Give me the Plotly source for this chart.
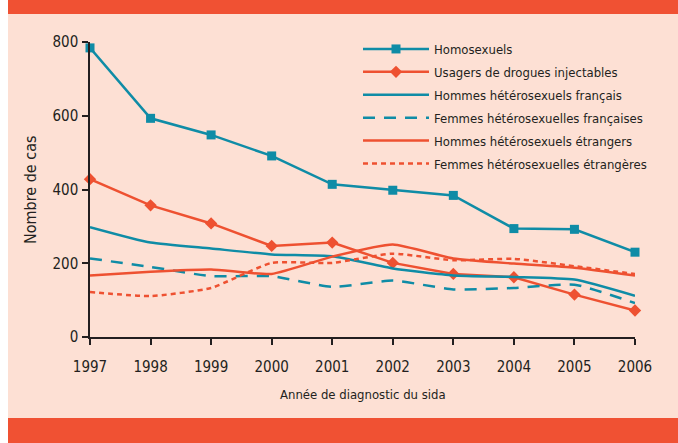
import plotly.graph_objects as go

# ==============================
# DATA
# ==============================
annees = [1997, 1998, 1999, 2000, 2001, 2002, 2003, 2004, 2005, 2006]

homosexuels = [784, 593, 548, 491, 414, 398, 384, 294, 292, 230]
udi = [428, 357, 308, 247, 256, 201, 171, 162, 115, 72]
hommes_hetero_fr = [298, 256, 240, 224, 219, 186, 167, 163, 156, 112]
femmes_hetero_fr = [213, 190, 165, 165, 136, 153, 129, 133, 142, 92]
hommes_hetero_etr = [167, 177, 183, 171, 218, 251, 213, 199, 188, 167]
femmes_hetero_etr = [122, 111, 133, 201, 201, 226, 208, 212, 192, 171]

y_ticks = [0, 200, 400, 600, 800]

# colours
teal = "#0f8ca6"
orange = "#ee5131"
peach = "#fde0d4"
band = "#f05133"
ink = "#231f20"
font_family = "Liberation Sans Narrow, DejaVu Sans Condensed, sans-serif"

fig = go.Figure()

fig.add_trace(go.Scatter(x=annees, y=homosexuels, name="Homosexuels", legendgroup="a",
                         mode="lines+markers", cliponaxis=False,
                         line=dict(color=teal, width=2.5),
                         marker=dict(symbol="square", size=9, color=teal)))
fig.add_trace(go.Scatter(x=annees, y=udi, name="Usagers de drogues injectables", legendgroup="b",
                         mode="lines+markers", cliponaxis=False,
                         line=dict(color=orange, width=2.5),
                         marker=dict(symbol="diamond", size=9.5, color=orange)))
fig.add_trace(go.Scatter(x=annees, y=hommes_hetero_fr, name="Hommes hétérosexuels français",
                         legendgroup="c", mode="lines", cliponaxis=False,
                         line=dict(color=teal, width=2.5, shape="spline", smoothing=0.5)))
fig.add_trace(go.Scatter(x=annees, y=femmes_hetero_fr, name="Femmes hétérosexuelles françaises",
                         legendgroup="d", mode="lines", cliponaxis=False,
                         line=dict(color=teal, width=2.5, dash="12px,9px", shape="spline", smoothing=0.5)))
fig.add_trace(go.Scatter(x=annees, y=hommes_hetero_etr, name="Hommes hétérosexuels étrangers",
                         legendgroup="e", mode="lines", cliponaxis=False,
                         line=dict(color=orange, width=2.5, shape="spline", smoothing=0.5)))
fig.add_trace(go.Scatter(x=annees, y=femmes_hetero_etr, name="Femmes hétérosexuelles étrangères",
                         legendgroup="f", mode="lines", cliponaxis=False,
                         line=dict(color=orange, width=2.5, dash="5px,4px", shape="spline", smoothing=0.5)))

# page frame: white strip on the left, orange bands top and bottom
L, R, T, B = 90, 43, 42, 106
W, H = 678, 443
pw, ph = W - L - R, H - T - B


def px_x(v):
    return (v - L) / pw


def px_y(v):
    return (H - B - v) / ph


fig.add_shape(type="rect", xref="paper", yref="paper", layer="below", line_width=0,
              x0=px_x(-5), x1=px_x(8), y0=px_y(-5), y1=px_y(H + 5), fillcolor="white")
fig.add_shape(type="rect", xref="paper", yref="paper", layer="below", line_width=0,
              x0=px_x(8), x1=px_x(W + 5), y0=px_y(-5), y1=px_y(14), fillcolor=band)
fig.add_shape(type="rect", xref="paper", yref="paper", layer="below", line_width=0,
              x0=px_x(8), x1=px_x(W + 5), y0=px_y(418), y1=px_y(H + 5), fillcolor=band)

# axis titles as annotations so they sit where the original has them
fig.add_annotation(text="Année de diagnostic du sida", xref="paper", yref="paper",
                   x=0.5, y=px_y(394), xanchor="center", yanchor="middle",
                   showarrow=False, font=dict(size=13, color=ink))
fig.add_annotation(text="Nombre de cas", xref="paper", yref="paper", textangle=-90,
                   x=px_x(30), y=px_y(190), xanchor="center", yanchor="middle",
                   showarrow=False, font=dict(size=16, color=ink))

fig.update_layout(
    width=W, height=H,
    margin=dict(l=L, r=R, t=T, b=B),
    paper_bgcolor=peach, plot_bgcolor=peach,
    font=dict(family=font_family, color=ink, size=13),
    showlegend=True,
    legend=dict(x=px_x(358), y=px_y(34), xanchor="left", yanchor="top",
                bgcolor="rgba(0,0,0,0)", font=dict(size=13, color=ink),
                itemwidth=66, tracegroupgap=3),
)

fig.update_xaxes(range=[1997, 2006], tickvals=annees, showgrid=False, zeroline=False,
                 showline=True, linecolor=ink, linewidth=1.5,
                 ticks="outside", ticklen=6, tickwidth=1.5, tickcolor=ink,
                 tickfont=dict(size=15), ticklabelstandoff=9)
fig.update_yaxes(range=[0, 800], tickvals=y_ticks, showgrid=False, zeroline=False,
                 showline=True, linecolor=ink, linewidth=1.5,
                 ticks="outside", ticklen=6, tickwidth=1.5, tickcolor=ink,
                 tickfont=dict(size=15), ticklabelstandoff=1)

# drop the default body margin so the figure fills the window from the corner
fig.write_html("out.html", config={"displayModeBar": False},
               post_script="document.body.style.margin='0';")
